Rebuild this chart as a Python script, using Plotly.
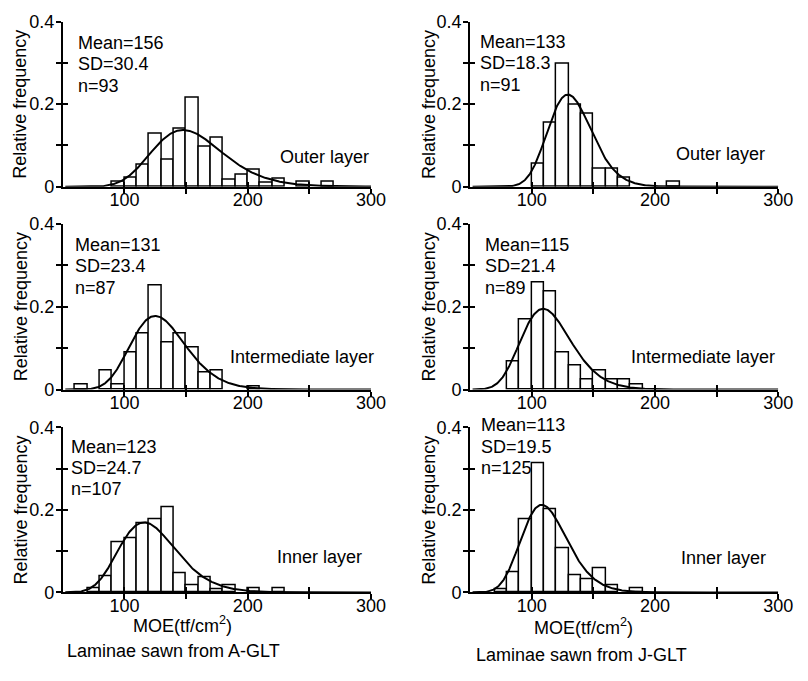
import numpy as np
import plotly.graph_objects as go

# ---- data: relative frequency of MOE in 10 tf/cm2 classes (left edge of class) ----
bin_width = 10

outer_a_bins = [90, 100, 110, 120, 130, 140, 150, 160, 170, 180, 190, 200, 210, 220, 240, 260]
outer_a_freq = [0.011, 0.022, 0.054, 0.129, 0.065, 0.140, 0.215, 0.097, 0.118, 0.018, 0.030, 0.042, 0.009, 0.020, 0.011, 0.011]

outer_j_bins = [100, 110, 120, 130, 140, 150, 160, 170, 210]
outer_j_freq = [0.055, 0.154, 0.297, 0.198, 0.176, 0.044, 0.044, 0.022, 0.011]

inter_a_bins = [60, 80, 90, 100, 110, 120, 130, 140, 150, 160, 170, 200]
inter_a_freq = [0.011, 0.046, 0.011, 0.090, 0.136, 0.250, 0.114, 0.136, 0.100, 0.040, 0.045, 0.008]

inter_j_bins = [80, 90, 100, 110, 120, 130, 140, 150, 160, 170, 180]
inter_j_freq = [0.068, 0.169, 0.258, 0.236, 0.090, 0.057, 0.023, 0.046, 0.023, 0.023, 0.012]

inner_a_bins = [70, 80, 90, 100, 110, 120, 130, 140, 150, 160, 170, 180, 200, 220]
inner_a_freq = [0.010, 0.038, 0.122, 0.131, 0.168, 0.177, 0.206, 0.046, 0.018, 0.037, 0.008, 0.018, 0.009, 0.009]

inner_j_bins = [70, 80, 90, 100, 110, 120, 130, 140, 150, 160, 180]
inner_j_freq = [0.008, 0.049, 0.178, 0.313, 0.202, 0.106, 0.041, 0.032, 0.058, 0.016, 0.009]

means = [156, 133, 131, 115, 123, 113]
sds = [30.4, 18.3, 23.4, 21.4, 24.7, 19.5]
counts = [93, 91, 87, 89, 107, 125]
layer_names = ["Outer layer", "Outer layer", "Intermediate layer", "Intermediate layer",
               "Inner layer", "Inner layer"]

x_ticks = [100, 150, 200, 250, 300]
x_tick_text = ["100", "", "200", "", "300"]
y_ticks = [0, 0.1, 0.2, 0.3, 0.4]
y_tick_text = ["0", "", "0.2", "", "0.4"]

panels = [
    (outer_a_bins, outer_a_freq), (outer_j_bins, outer_j_freq),
    (inter_a_bins, inter_a_freq), (inter_j_bins, inter_j_freq),
    (inner_a_bins, inner_a_freq), (inner_j_bins, inner_j_freq),
]

# ---- layout geometry (pixels) ----
W, H = 808, 681
col_px = [(64, 378), (479, 793)]
row_px = [(12, 182), (220, 391), (430, 600)]
FONT = "Liberation Sans, Arial, Helvetica, sans-serif"
FS = 18


def px_x(p):
    return p / W


def px_y(p):
    return 1 - p / H


def lognormal_curve(mean, sd, xs):
    s2 = np.log(1 + (sd / mean) ** 2)
    mu = np.log(mean) - s2 / 2
    pdf = np.exp(-(np.log(xs) - mu) ** 2 / (2 * s2)) / (xs * np.sqrt(2 * np.pi * s2))
    return pdf * bin_width


fig = go.Figure()
layout = {}
annotations = []

for i, (bins, freq) in enumerate(panels):
    k = i + 1
    ko = k + 6
    r, c = divmod(i, 2)
    x0p, x1p = col_px[c]
    y0p, y1p = row_px[r]
    sfx = "" if k == 1 else str(k)

    centers = [b + bin_width / 2 for b in bins]
    fig.add_trace(go.Bar(
        x=centers, y=freq, width=bin_width,
        marker=dict(color="white", line=dict(color="black", width=1.5)),
        xaxis=f"x{sfx}", yaxis=f"y{sfx}", showlegend=False,
    ))
    xs = np.linspace(52, 300, 500)
    fig.add_trace(go.Scatter(
        x=xs, y=lognormal_curve(means[i], sds[i], xs), mode="lines",
        line=dict(color="black", width=2),
        xaxis=f"x{sfx}", yaxis=f"y{sfx}", showlegend=False,
    ))
    # placeholder traces so the inner-tick overlay axes get drawn
    fig.add_trace(go.Scatter(x=[None], y=[None], xaxis=f"x{ko}", yaxis=f"y{sfx}",
                             showlegend=False, hoverinfo="skip"))
    fig.add_trace(go.Scatter(x=[None], y=[None], xaxis=f"x{sfx}", yaxis=f"y{ko}",
                             showlegend=False, hoverinfo="skip"))

    common_x = dict(range=[50, 300], tickvals=x_ticks, ticktext=x_tick_text,
                    showgrid=False, zeroline=False)
    common_y = dict(range=[0, 0.4], tickvals=y_ticks, ticktext=y_tick_text,
                    showgrid=False, zeroline=False)

    layout[f"xaxis{sfx}"] = dict(
        **common_x, domain=[px_x(x0p), px_x(x1p)], anchor=f"y{sfx}",
        showline=True, linecolor="black", linewidth=2,
        ticks="outside", ticklen=5, tickwidth=2, tickcolor="black",
        ticklabelstandoff=-9,
        tickfont=dict(family=FONT, size=FS, color="black"),
    )
    layout[f"yaxis{sfx}"] = dict(
        **common_y, domain=[px_y(y1p), px_y(y0p)], anchor=f"x{sfx}",
        showline=True, linecolor="black", linewidth=2,
        ticks="outside", ticklen=5, tickwidth=2, tickcolor="black",
        ticklabelstandoff=-2,
        tickfont=dict(family=FONT, size=FS, color="black"),
    )
    layout[f"xaxis{ko}"] = dict(
        **common_x, overlaying=f"x{sfx}", anchor=f"y{sfx}", side="bottom",
        showline=False, ticks="inside", ticklen=5, tickwidth=2, tickcolor="black",
        showticklabels=False,
    )
    layout[f"yaxis{ko}"] = dict(
        **common_y, overlaying=f"y{sfx}", anchor=f"x{sfx}", side="left",
        showline=False, ticks="inside", ticklen=5, tickwidth=2, tickcolor="black",
        showticklabels=False,
    )

    # statistics block
    stats = [f"Mean={means[i]}", f"SD={sds[i]}", f"n={counts[i]}"]
    stat_left = [(77, 487), (74, 492), (70, 488)][r][c]
    stat_top = [(34, 33), (242, 242), (450, 428)][r][c]
    for j, s in enumerate(stats):
        annotations.append(dict(
            text=s, x=px_x(stat_left), y=px_y(stat_top + 22 * j),
            xref="paper", yref="paper", xanchor="left", yanchor="middle",
            showarrow=False, font=dict(family=FONT, size=FS, color="black"),
        ))
    # layer name
    name_right = [(378, 782), (383, 792), (371, 783)][r][c]
    name_y = [(151, 148), (357, 357), (564, 565)][r][c]
    annotations.append(dict(
        text=layer_names[i], x=px_x(name_right), y=px_y(name_y),
        xref="paper", yref="paper", xanchor="right", yanchor="middle",
        showarrow=False, font=dict(family=FONT, size=FS, color="black"),
    ))
    # y-axis title
    ytitle_x = [21, 437][c]
    annotations.append(dict(
        text="Relative frequency", x=px_x(ytitle_x), y=px_y((y0p + y1p) / 2),
        xref="paper", yref="paper", xanchor="center", yanchor="middle",
        textangle=-90, showarrow=False, font=dict(family=FONT, size=FS, color="black"),
    ))

# x-axis titles and column captions
for cx, cy, text in [
    (186, 633, "MOE(tf/cm<sup>2</sup>)"), (595, 635, "MOE(tf/cm<sup>2</sup>)"),
    (177, 660, "Laminae sawn from A-GLT"), (592, 665, "Laminae sawn from J-GLT"),
]:
    annotations.append(dict(
        text=text, x=px_x(cx), y=px_y(cy), xref="paper", yref="paper",
        xanchor="center", yanchor="middle", showarrow=False,
        font=dict(family=FONT, size=FS, color="black"),
    ))

fig.update_layout(
    **layout,
    annotations=annotations,
    width=W, height=H,
    margin=dict(l=0, r=0, t=0, b=0),
    paper_bgcolor="white", plot_bgcolor="white",
    bargap=0, showlegend=False,
)

fig.write_html("out.html")
